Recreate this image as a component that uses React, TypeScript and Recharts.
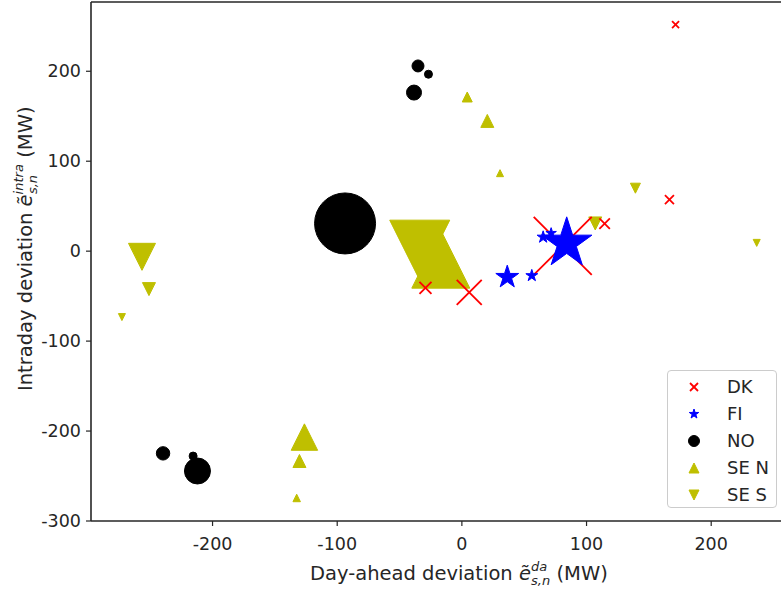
import React from 'react';
import { ScatterChart, Scatter, XAxis, YAxis, ZAxis, ReferenceLine, Legend } from 'recharts';

// x = day-ahead deviation (MW), y = intraday deviation (MW), z = marker size
const dkPoints = [
  { x: 171.4, y: 251.9, z: 49 },
  { x: 166.5, y: 57.4, z: 81 },
  { x: 114.5, y: 30.7, z: 110 },
  { x: -29.2, y: -40.8, z: 144 },
  { x: 5.9, y: -45.9, z: 625 },
  { x: 80.9, y: 5.8, z: 3364 },
];
const fiPoints = [
  { x: 84.1, y: 8.7, z: 2809 },
  { x: 36.4, y: -28.9, z: 576 },
  { x: 56.1, y: -27.2, z: 156 },
  { x: 65.2, y: 15.6, z: 160 },
  { x: 71.6, y: 20.0, z: 121 },
];
const noPoints = [
  { x: -93.7, y: 30.8, z: 3721 },
  { x: -35.2, y: 205.9, z: 144 },
  { x: -26.8, y: 196.7, z: 64 },
  { x: -38.4, y: 176.3, z: 225 },
  { x: -239.7, y: -224.8, z: 180 },
  { x: -215.6, y: -227.8, z: 64 },
  { x: -212.1, y: -244.4, z: 676 },
];
const seNPoints = [
  { x: -16.9, y: -8.9, z: 3364 },
  { x: 4.3, y: 171.4, z: 100 },
  { x: 20.4, y: 144.8, z: 169 },
  { x: 30.6, y: 86.7, z: 49 },
  { x: -126.3, y: -206.7, z: 700 },
  { x: -130.3, y: -233.3, z: 169 },
  { x: -132.5, y: -274.4, z: 56 },
];
const seSPoints = [
  { x: -33.8, y: 1.1, z: 3600 },
  { x: -256.6, y: -6.3, z: 729 },
  { x: -251.0, y: -42.2, z: 169 },
  { x: -272.7, y: -73.3, z: 49 },
  { x: 139.2, y: 70.0, z: 100 },
  { x: 107.0, y: 30.8, z: 169 },
  { x: 236.5, y: 9.2, z: 49 },
];

const xTicks = [-200, -100, 0, 100, 200];
const yTicks = [-300, -200, -100, 0, 100, 200];
const xDomain = [-297.5, 260];
const yDomain = [-300, 277];

const legendItems = [
  { name: 'DK', kind: 'x', color: '#ff0000' },
  { name: 'FI', kind: 'star', color: '#0000ff' },
  { name: 'NO', kind: 'circle', color: '#000000' },
  { name: 'SE N', kind: 'up', color: '#bfbf00' },
  { name: 'SE S', kind: 'down', color: '#bfbf00' },
];

const FONT = 'DejaVu Sans, Verdana, sans-serif';
const TEXT = '#262626';

function drawMarker(kind: string, color: string, cx: number, cy: number, w: number, key?: any) {
  const h = w / 2;
  if (kind === 'x') {
    return (
      <g key={key} stroke={color} strokeWidth={1.8} strokeLinecap="butt">
        <line x1={cx - h} y1={cy - h} x2={cx + h} y2={cy + h} />
        <line x1={cx - h} y1={cy + h} x2={cx + h} y2={cy - h} />
      </g>
    );
  }
  if (kind === 'circle') {
    return <circle key={key} cx={cx} cy={cy} r={h} fill={color} stroke={color} strokeWidth={1} />;
  }
  if (kind === 'up') {
    const pts = `${cx},${cy - h} ${cx - h},${cy + h} ${cx + h},${cy + h}`;
    return <polygon key={key} points={pts} fill={color} stroke={color} strokeWidth={1} strokeLinejoin="miter" />;
  }
  if (kind === 'down') {
    const pts = `${cx},${cy + h} ${cx - h},${cy - h} ${cx + h},${cy - h}`;
    return <polygon key={key} points={pts} fill={color} stroke={color} strokeWidth={1} strokeLinejoin="miter" />;
  }
  // star
  const R = h;
  const r = R * 0.381966;
  const pts: string[] = [];
  for (let i = 0; i < 10; i++) {
    const rad = i % 2 === 0 ? R : r;
    const a = -Math.PI / 2 + (i * Math.PI) / 5;
    pts.push(`${cx + rad * Math.cos(a)},${cy + rad * Math.sin(a)}`);
  }
  return <polygon key={key} points={pts.join(' ')} fill={color} stroke={color} strokeWidth={1} strokeLinejoin="miter" />;
}

const makeShape = (kind: string, color: string) => (props: any) => {
  const { cx, cy } = props;
  const size = props.size != null ? props.size : props.payload?.z ?? 64;
  const w = Math.sqrt(Math.max(size, 0));
  if (cx == null || cy == null) return <g />;
  return drawMarker(kind, color, cx, cy, w);
};

const renderLegend = () => (
  <div
    style={{
      width: 110,
      height: 138,
      boxSizing: 'border-box',
      border: '1px solid #cccccc',
      borderRadius: 4,
      background: 'rgba(255,255,255,0.8)',
      position: 'relative',
      fontFamily: FONT,
      fontSize: 18,
      color: TEXT,
    }}
  >
    {legendItems.map((it, i) => (
      <div
        key={it.name}
        style={{ position: 'absolute', left: 0, top: 4 + i * 27, height: 24, width: 110, display: 'flex', alignItems: 'center' }}
      >
        <svg width={20} height={20} style={{ position: 'absolute', left: 16, top: 2 }}>
          {drawMarker(it.kind, it.color, 10, 10, it.kind === 'circle' ? 11 : it.kind === 'x' ? 8 : 10)}
        </svg>
        <span style={{ position: 'absolute', left: 59, top: 1, lineHeight: '22px', whiteSpace: 'nowrap' }}>{it.name}</span>
      </div>
    ))}
  </div>
);

const XLabel = () => (
  <text x={310} y={580} fontFamily={FONT} fontSize={19.5} fill={TEXT}>
    <tspan>Day-ahead deviation </tspan>
    <tspan fontStyle="italic">ẽ</tspan>
    <tspan fontStyle="italic" fontSize={13} dy={-9}>da</tspan>
    <tspan fontStyle="italic" fontSize={13} dx={-16} dy={14}>s,n</tspan>
    <tspan dy={-5}> (MW)</tspan>
  </text>
);

const YLabel = () => (
  <text transform="translate(32,391) rotate(-90)" x={0} y={0} fontFamily={FONT} fontSize={19.5} fill={TEXT}>
    <tspan>Intraday deviation </tspan>
    <tspan fontStyle="italic">ẽ</tspan>
    <tspan fontStyle="italic" fontSize={13} dy={-9}>intra</tspan>
    <tspan fontStyle="italic" fontSize={13} dx={-30} dy={14}>s,n</tspan>
    <tspan dx={11} dy={-5}> (MW)</tspan>
  </text>
);

export default function App() {
  return (
    <div style={{ position: 'absolute', left: 0, top: 0, width: 781, height: 592, overflow: 'hidden', background: '#fff' }}>
      <ScatterChart width={800} height={592} margin={{ top: 2, right: 14, bottom: 0, left: 0 }}>
        <XAxis
          type="number"
          dataKey="x"
          domain={xDomain}
          ticks={xTicks}
          allowDataOverflow
          height={71}
          tickSize={5}
          tickMargin={12}
          axisLine={{ stroke: '#262626', strokeWidth: 1.6 }}
          tickLine={{ stroke: '#262626', strokeWidth: 1.2 }}
          tick={{ fontFamily: FONT, fontSize: 17.5, fill: TEXT }}
          label={{ content: () => <XLabel /> }}
        />
        <YAxis
          type="number"
          dataKey="y"
          domain={yDomain}
          ticks={yTicks}
          allowDataOverflow
          width={91}
          tickSize={5}
          tickMargin={5}
          axisLine={{ stroke: '#262626', strokeWidth: 1.6 }}
          tickLine={{ stroke: '#262626', strokeWidth: 1.2 }}
          tick={{ fontFamily: FONT, fontSize: 17.5, fill: TEXT }}
          label={{ content: () => <YLabel /> }}
        />
        <ZAxis type="number" dataKey="z" domain={[0, 4000]} range={[0, 4000]} />
        <ReferenceLine y={yDomain[1]} stroke="#262626" strokeWidth={1.6} ifOverflow="visible" />
        <ReferenceLine x={xDomain[1]} stroke="#262626" strokeWidth={1.6} ifOverflow="visible" />
        <Scatter name="NO" data={noPoints} shape={makeShape('circle', '#000000')} isAnimationActive={false} />
        <Scatter name="SE N" data={seNPoints} shape={makeShape('up', '#bfbf00')} isAnimationActive={false} />
        <Scatter name="SE S" data={seSPoints} shape={makeShape('down', '#bfbf00')} isAnimationActive={false} />
        <Scatter name="DK" data={dkPoints} shape={makeShape('x', '#ff0000')} isAnimationActive={false} />
        <Scatter name="FI" data={fiPoints} shape={makeShape('star', '#0000ff')} isAnimationActive={false} />
        <Legend
          layout="vertical"
          align="center"
          verticalAlign="middle"
          content={renderLegend}
          wrapperStyle={{ left: 667, top: 370, width: 110, height: 138 }}
        />
      </ScatterChart>
    </div>
  );
}
